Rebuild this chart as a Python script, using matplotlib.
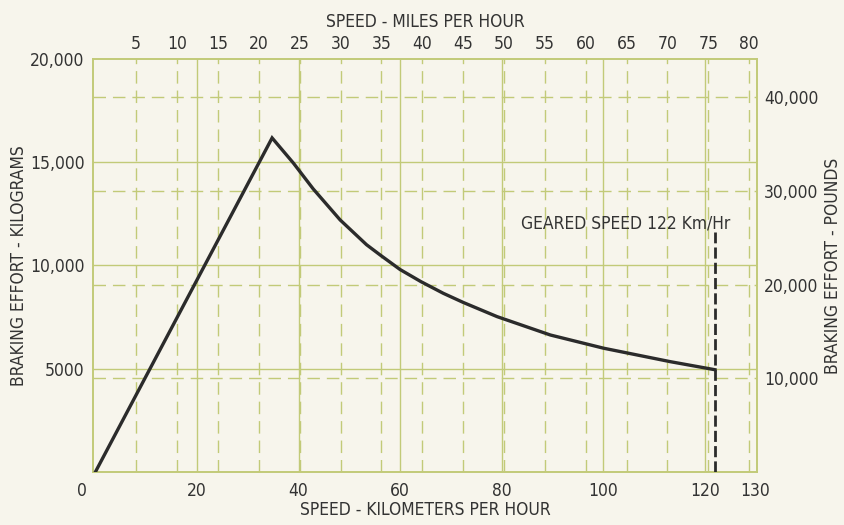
#!/usr/bin/env python
"""Braking effort vs speed, km/h + mph, kg + lb."""
import matplotlib
matplotlib.use("Agg")
import matplotlib.pyplot as plt
import matplotlib.transforms as mtransforms

KMH_PER_MPH = 1.609344
LB_PER_KG = 2.20462

# curve (km/h, kg)
speed_kmh = [0, 34.8, 39.0, 42.9, 48.2, 53.4, 56.1, 60.0, 64.1, 68.5, 72.5,
             79.1, 89.6, 100.1, 113.2, 122.0]
effort_kg = [0, 16170, 14950, 13700, 12200, 11000, 10500, 9800, 9215, 8650, 8200,
             7520, 6630, 5990, 5340, 4950]

geared_speed = 122
geared_top_kg = 11600

kmh_ticks = [0, 20, 40, 60, 80, 100, 120, 130]
kmh_grid = [20, 40, 60, 80, 100, 120]
mph_ticks = [5, 10, 15, 20, 25, 30, 35, 40, 45, 50, 55, 60, 65, 70, 75, 80]
kg_ticks = [5000, 10000, 15000, 20000]
kg_labels = ["5000", "10,000", "15,000", "20,000"]
kg_grid = [5000, 10000, 15000]
lb_ticks = [10000, 20000, 30000, 40000]
lb_labels = ["10,000", "20,000", "30,000", "40,000"]

BG = "#f7f5ec"
GRID = "#c2ca78"
INK = "#2b2b2b"
TXT = "#333333"

plt.rcParams["lines.scale_dashes"] = False
plt.rcParams["font.family"] = ["DejaVu Sans"]
plt.rcParams["font.stretch"] = "condensed"
FS = 12.5

fig = plt.figure(figsize=(8.44, 5.25), dpi=100, facecolor=BG)
ax = fig.add_axes([0.110, 0.101, 0.787, 0.787], facecolor=BG)
ax.set_xlim(-0.5, 130.3)
ax.set_ylim(0, 20000)

# grid: solid on metric, dashed on imperial
for v in kmh_grid:
    ax.axvline(v, color=GRID, lw=1.0, zorder=1)
for v in kg_grid:
    ax.axhline(v, color=GRID, lw=1.0, zorder=1)
for m in mph_ticks:
    ax.axvline(m * KMH_PER_MPH, color=GRID, lw=1.0, dashes=(9, 5), zorder=1)
for p in lb_ticks:
    ax.axhline(p / LB_PER_KG, color=GRID, lw=1.0, dashes=(9, 5), zorder=1)
for s in ax.spines.values():
    s.set_color(GRID); s.set_linewidth(1.4)

ax.plot(speed_kmh, effort_kg, color=INK, lw=2.4, zorder=3, solid_joinstyle="miter")
ax.plot([geared_speed, geared_speed], [0, geared_top_kg], color=INK, lw=2.0,
        dashes=(8, 3), zorder=3)
ax.text(104.5, 12050, "GEARED SPEED 122 Km/Hr", ha="center", va="center",
        fontsize=FS, color=TXT)

ax.set_xticks(kmh_ticks)
ax.set_xticklabels([str(t) for t in kmh_ticks])
ax.set_yticks(kg_ticks)
ax.set_yticklabels(kg_labels)
ax.tick_params(length=0, labelsize=FS, labelcolor=TXT)
ax.tick_params(axis="x", pad=7)
ax.tick_params(axis="y", pad=6)
# the "0" sits a little left of the corner in the original
zero = ax.get_xticklabels()[0]
zero.set_transform(zero.get_transform() +
                   mtransforms.ScaledTranslation(-10 / 72, 0, fig.dpi_scale_trans))
ax.set_xlabel("SPEED - KILOMETERS PER HOUR", fontsize=FS, color=TXT, labelpad=1)
ax.set_ylabel("BRAKING EFFORT - KILOGRAMS", fontsize=FS, color=TXT, labelpad=1.5)

top = ax.secondary_xaxis("top", functions=(lambda k: k / KMH_PER_MPH,
                                           lambda m: m * KMH_PER_MPH))
top.set_xticks(mph_ticks)
top.tick_params(length=0, labelsize=FS, labelcolor=TXT, pad=4)
top.spines["top"].set_visible(False)
top.set_xlabel("SPEED - MILES PER HOUR", fontsize=FS, color=TXT, labelpad=6)

right = ax.secondary_yaxis("right", functions=(lambda k: k * LB_PER_KG,
                                               lambda p: p / LB_PER_KG))
right.set_yticks(lb_ticks)
right.set_yticklabels(lb_labels)
right.tick_params(length=0, labelsize=FS, labelcolor=TXT, pad=5)
right.spines["right"].set_visible(False)
right.set_ylabel("BRAKING EFFORT - POUNDS", fontsize=FS, color=TXT, labelpad=4)

fig.savefig("out.png", dpi=100, facecolor=BG)
